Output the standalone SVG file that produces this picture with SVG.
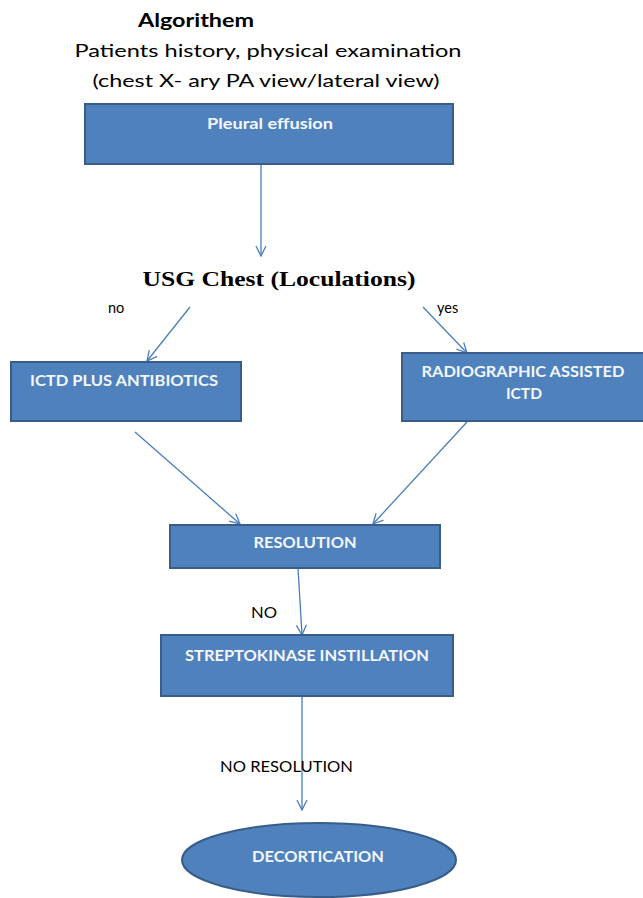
<svg xmlns="http://www.w3.org/2000/svg" width="643" height="898" viewBox="0 0 643 898">
<style>
.box{fill:#4F81BD;stroke:#385D8A;stroke-width:2}
.bt{font-family:Lato,"Open Sans",sans-serif;font-size:14.5px;font-weight:bold;fill:#F4F7FB;text-anchor:middle}
.lbl{font-family:Lato,"Open Sans",sans-serif;font-size:14.5px;fill:#000000}
.hd{font-family:Lato,"Open Sans",sans-serif;font-size:18px;fill:#000000}
.con{stroke:#4A7EBB;stroke-width:1.3;fill:none;marker-end:url(#ah)}
</style>
<defs>
<marker id="ah" viewBox="0 0 12 12" refX="11" refY="6" markerWidth="12" markerHeight="12" markerUnits="userSpaceOnUse" orient="auto">
<path d="M1,1 L11,6 L1,11" fill="none" stroke="#4A7EBB" stroke-width="1.3"/>
</marker>
</defs>
<rect width="643" height="898" fill="#FFFFFF"/>
<g id="header">
<text x="196" y="27" class="hd" font-weight="bold" text-anchor="middle" textLength="116" lengthAdjust="spacingAndGlyphs">Algorithem</text>
<text x="268" y="57" class="hd" text-anchor="middle" textLength="387" lengthAdjust="spacingAndGlyphs">Patients history, physical examination</text>
<text x="266" y="87" class="hd" text-anchor="middle" textLength="347" lengthAdjust="spacingAndGlyphs">(chest X- ary PA view/lateral view)</text>
</g>
<g id="connectors">
<line x1="261" y1="164" x2="261" y2="256" class="con"/>
<line x1="190" y1="307" x2="147" y2="361" class="con"/>
<line x1="423" y1="307" x2="467" y2="353" class="con"/>
<line x1="135" y1="432" x2="240" y2="524" class="con"/>
<line x1="467" y1="422" x2="373" y2="524" class="con"/>
<line x1="298" y1="568" x2="302" y2="635" class="con"/>
<line x1="302" y1="697" x2="302" y2="810" class="con"/>
</g>
<g id="pleural">
<rect x="85" y="104" width="368" height="60" class="box"/>
<text x="270" y="129" class="bt" textLength="126" lengthAdjust="spacingAndGlyphs">Pleural effusion</text>
</g>
<g id="usg">
<text x="279" y="286" font-family="'Liberation Serif','DejaVu Serif',serif" font-weight="bold" font-size="20" text-anchor="middle" textLength="273" lengthAdjust="spacingAndGlyphs">USG Chest (Loculations)</text>
</g>
<text x="108" y="313" class="lbl">no</text>
<text x="437" y="313" class="lbl">yes</text>
<g id="ictd">
<rect x="11" y="362" width="230" height="59" class="box"/>
<text x="124" y="386" class="bt" textLength="188" lengthAdjust="spacingAndGlyphs">ICTD PLUS ANTIBIOTICS</text>
</g>
<g id="radiographic">
<rect x="402" y="353" width="245" height="68" class="box"/>
<text x="523" y="377" class="bt" textLength="203" lengthAdjust="spacingAndGlyphs">RADIOGRAPHIC ASSISTED</text>
<text x="524" y="399" class="bt" textLength="36" lengthAdjust="spacingAndGlyphs">ICTD</text>
</g>
<g id="resolution">
<rect x="170" y="525" width="270" height="43" class="box"/>
<text x="305" y="548" class="bt" textLength="103" lengthAdjust="spacingAndGlyphs">RESOLUTION</text>
</g>
<text x="251" y="618" class="lbl" textLength="26" lengthAdjust="spacingAndGlyphs">NO</text>
<g id="streptokinase">
<rect x="161" y="635" width="292" height="61" class="box"/>
<text x="307" y="661" class="bt" textLength="244" lengthAdjust="spacingAndGlyphs">STREPTOKINASE INSTILLATION</text>
</g>
<text x="220" y="772" class="lbl" textLength="133" lengthAdjust="spacingAndGlyphs">NO RESOLUTION</text>
<g id="decortication">
<ellipse cx="319" cy="860" rx="137" ry="37" class="box"/>
<text x="318" y="862" class="bt" textLength="132" lengthAdjust="spacingAndGlyphs">DECORTICATION</text>
</g>
</svg>
